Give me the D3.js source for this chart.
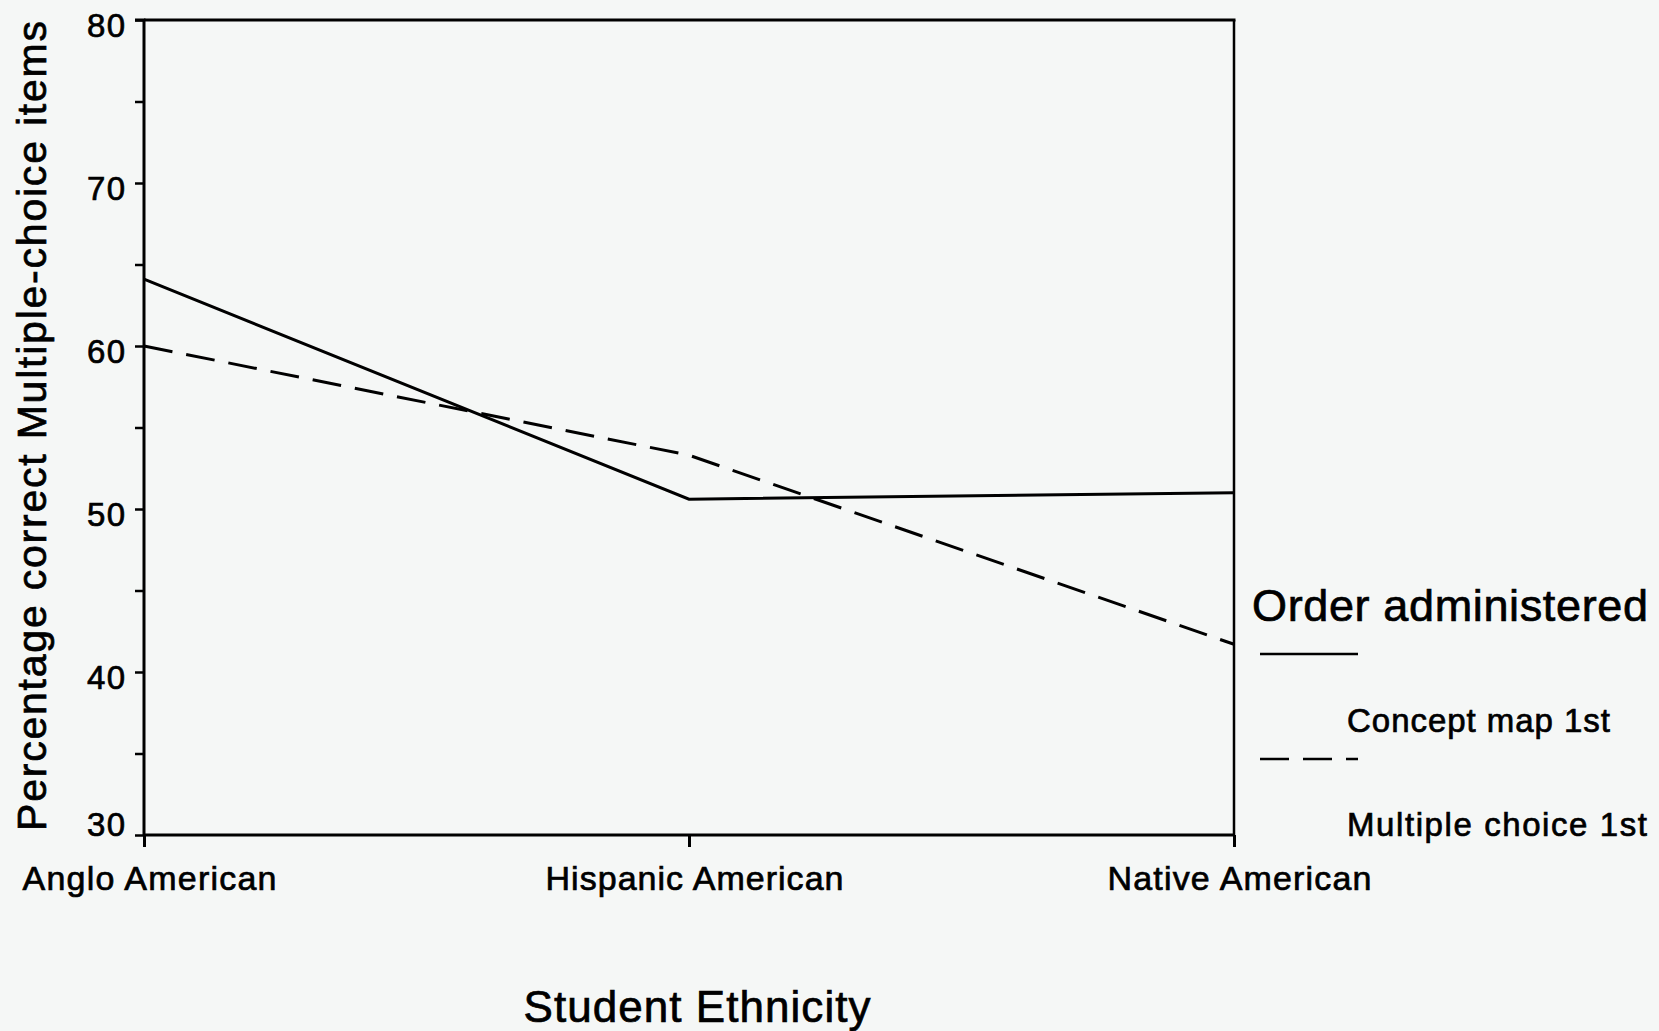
<!DOCTYPE html>
<html>
<head>
<meta charset="utf-8">
<script src="https://cdn.jsdelivr.net/npm/d3@7"></script>
<style>
  html, body { margin: 0; padding: 0; background: #f5f7f6; }
  svg { display: block; }
  text { font-family: "Liberation Sans", Arial, Helvetica, sans-serif; fill: #000; stroke: #000; stroke-width: 0.7px; }
</style>
</head>
<body>
<svg id="chart" width="1659" height="1031"></svg>
<script>
// Ethnic groups along the x axis
const categories = ["Anglo American", "Hispanic American", "Native American"];
// Percentage correct on multiple-choice items, by order administered
const conceptMapFirst = [64.1, 50.6, 51.0];
const multipleChoiceFirst = [60.0, 53.3, 41.7];
const seriesNames = ["Concept map 1st", "Multiple choice 1st"];
const yTicks = [30, 35, 40, 45, 50, 55, 60, 65, 70, 75, 80];
const yTickLabels = [30, 40, 50, 60, 70, 80];

const svg = d3.select("#chart");
const plotLeft = 144, plotRight = 1234, plotTop = 20, plotBottom = 835;
const font = "'Liberation Sans', Arial, sans-serif";

const x = d3.scalePoint().domain(categories).range([plotLeft, plotRight]).padding(0);
const y = d3.scaleLinear().domain([30, 80]).range([plotBottom, plotTop]);

// Frame: top and right borders
svg.append("line").attr("x1", plotLeft).attr("x2", plotRight + 1.5).attr("y1", plotTop).attr("y2", plotTop)
  .attr("stroke", "#000").attr("stroke-width", 3);
svg.append("line").attr("x1", plotRight).attr("x2", plotRight).attr("y1", plotTop).attr("y2", plotBottom)
  .attr("stroke", "#000").attr("stroke-width", 2.5);

// Y axis; the lowest label sits on the baseline so it clears the x axis
const yAxis = d3.axisLeft(y).tickValues(yTicks).tickSize(9).tickPadding(10)
  .tickFormat(d => yTickLabels.includes(d) ? d : "");
const gy = svg.append("g").attr("transform", `translate(${plotLeft},0)`).call(yAxis);
gy.select(".domain").attr("stroke-width", 3).attr("d", `M-9,${plotTop}H0V${plotBottom}`);
gy.selectAll(".tick line").attr("stroke-width", 2.5);
gy.selectAll(".tick text").attr("font-size", 33).attr("dy", 0)
  .attr("y", d => d === 30 ? 0 : 16)
  .style("font-family", font).attr("fill", "#000")
  .filter(d => yTickLabels.includes(d))
  .attr("textLength", 38).attr("lengthAdjust", "spacing");

// X axis
const xAxis = d3.axisBottom(x).tickSize(12).tickPadding(14);
const gx = svg.append("g").attr("transform", `translate(0,${plotBottom})`).call(xAxis);
gx.select(".domain").attr("stroke-width", 3).attr("d", `M${plotLeft},0H${plotRight}`);
gx.selectAll(".tick line").attr("stroke-width", 3);
const xLabelWidths = { "Anglo American": 254, "Hispanic American": 298, "Native American": 264 };
gx.selectAll(".tick text").attr("font-size", 34).attr("dx", 5).attr("dy", 0).attr("y", 55)
  .style("font-family", font).attr("fill", "#000")
  .attr("textLength", d => xLabelWidths[d]).attr("lengthAdjust", "spacing");

// Data lines
const line = d3.line().x((d, i) => x(categories[i])).y(d => y(d));
svg.append("path").datum(conceptMapFirst).attr("d", line)
  .attr("fill", "none").attr("stroke", "#000").attr("stroke-width", 3);
svg.append("path").datum(multipleChoiceFirst).attr("d", line)
  .attr("fill", "none").attr("stroke", "#000").attr("stroke-width", 3)
  .attr("stroke-dasharray", "29,14");

// Axis titles
svg.append("text").attr("x", 697).attr("y", 1022).attr("text-anchor", "middle")
  .attr("font-size", 44).attr("textLength", 347).attr("lengthAdjust", "spacing")
  .text("Student Ethnicity");
svg.append("text").attr("transform", "translate(46,426) rotate(-90)")
  .attr("text-anchor", "middle").attr("font-size", 41)
  .attr("textLength", 810).attr("lengthAdjust", "spacing")
  .text("Percentage correct Multiple-choice items");

// Legend
const legend = svg.append("g");
legend.append("text").attr("x", 1252).attr("y", 621).attr("font-size", 45)
  .attr("textLength", 396).attr("lengthAdjust", "spacing").text("Order administered");
const legendRows = [
  { name: seriesNames[0], lineY: 654, textY: 732, dash: null, len: 263 },
  { name: seriesNames[1], lineY: 759, textY: 836, dash: "29,14", len: 300 }
];
legendRows.forEach(r => {
  legend.append("line").attr("x1", 1260).attr("x2", 1358).attr("y1", r.lineY).attr("y2", r.lineY)
    .attr("stroke", "#000").attr("stroke-width", 2.5)
    .attr("stroke-dasharray", r.dash);
  legend.append("text").attr("x", 1347).attr("y", r.textY).attr("font-size", 33)
    .attr("textLength", r.len).attr("lengthAdjust", "spacing").text(r.name);
});
</script>
</body>
</html>
